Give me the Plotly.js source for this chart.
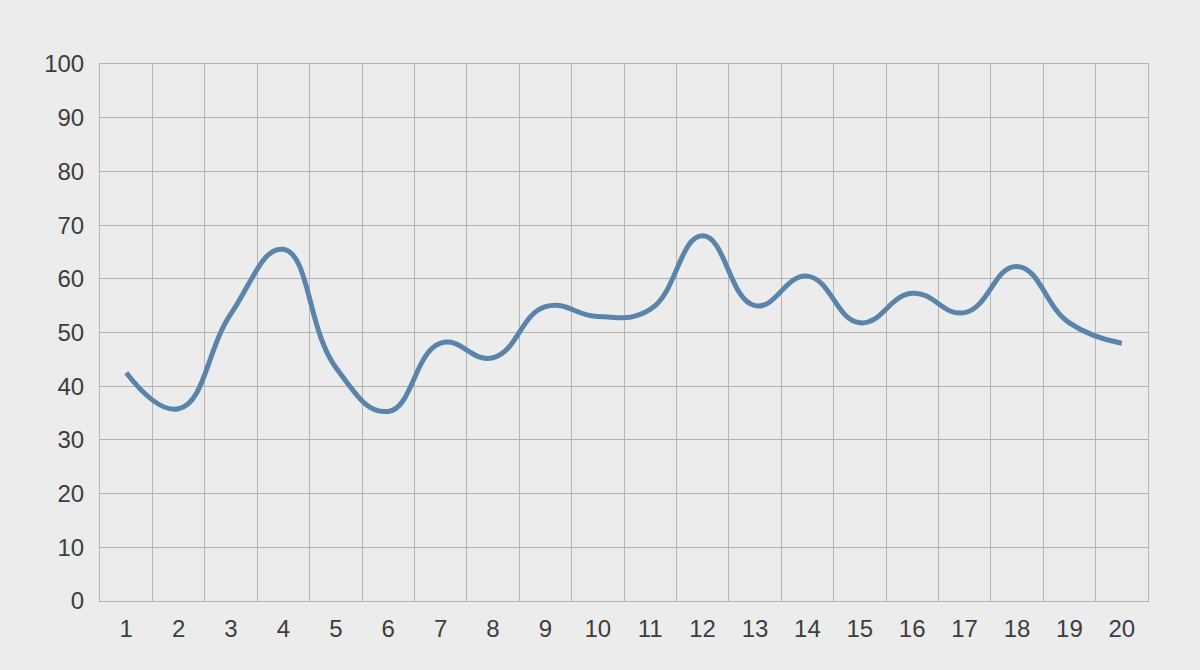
<!DOCTYPE html>
<html>
<head>
<meta charset="utf-8">
<script src="https://cdn.plot.ly/plotly-3.0.1.min.js"></script>
<style>
  html, body { margin: 0; padding: 0; background: #ececec; }
  #chart { width: 1200px; height: 670px; }
</style>
</head>
<body>
<div id="chart"></div>
<script>
const categories = ["1","2","3","4","5","6","7","8","9","10","11","12","13","14","15","16","17","18","19","20"];
const values = [42.5, 35.8, 53.5, 65.5, 43.5, 35.3, 48, 45.3, 54.8, 53, 54.3, 68, 55, 60.5, 51.8, 57.3, 53.7, 62.3, 51.8, 48];
const yTicks = [0, 10, 20, 30, 40, 50, 60, 70, 80, 90, 100];

const gridColor = "#b4b4b4";
const textColor = "#3d3d3d";

const trace = {
  x: categories,
  y: values,
  type: "scatter",
  mode: "lines",
  line: { shape: "spline", smoothing: 1.3, color: "#5b84ab", width: 5 },
  hoverinfo: "skip"
};

const layout = {
  width: 1200,
  height: 670,
  margin: { l: 100, r: 52, t: 64, b: 69 },
  paper_bgcolor: "#ececec",
  plot_bgcolor: "#ececec",
  showlegend: false,
  font: { family: "Liberation Sans, Arial, sans-serif", size: 24, color: textColor },
  xaxis: {
    type: "category",
    range: [-0.5, 19.5],
    tickson: "boundaries",
    showgrid: true,
    gridcolor: gridColor,
    gridwidth: 1,
    showline: true,
    linecolor: gridColor,
    linewidth: 1,
    mirror: true,
    ticks: "",
    zeroline: false,
    ticklabelstandoff: 6,
    tickfont: { size: 24, color: textColor }
  },
  yaxis: {
    range: [0, 100],
    tickvals: yTicks,
    ticktext: yTicks.map(String),
    showgrid: true,
    gridcolor: gridColor,
    gridwidth: 1,
    showline: true,
    linecolor: gridColor,
    linewidth: 1,
    mirror: true,
    ticks: "",
    zeroline: false,
    ticklabelstandoff: 10,
    tickfont: { size: 24, color: textColor }
  }
};

Plotly.newPlot("chart", [trace], layout, { displayModeBar: false, staticPlot: true });
</script>
</body>
</html>
